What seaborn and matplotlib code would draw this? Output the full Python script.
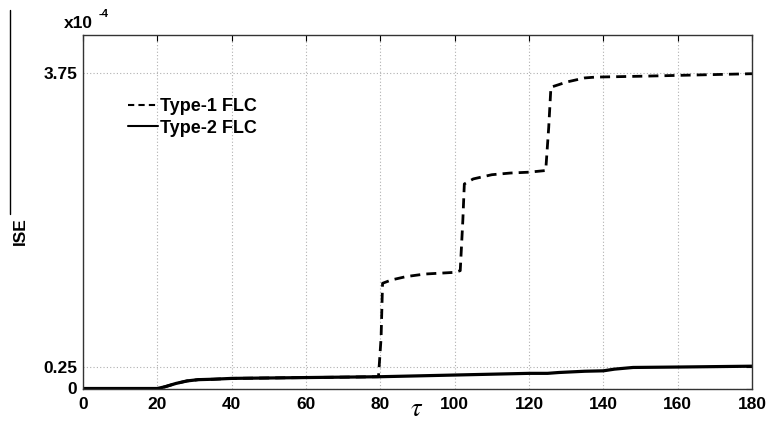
import numpy as np
import pandas as pd
import matplotlib
matplotlib.use("Agg")
import matplotlib.pyplot as plt
import seaborn as sns
from matplotlib.lines import Line2D

# ---- data (ISE in units of 1e-4) ----
t1_tau = [0, 20, 22, 25, 28, 31, 35, 40, 50, 60, 70, 79.5, 80.2, 80.6, 83, 87, 92, 96, 100,
          101.5, 102.2, 102.6, 105, 110, 115, 120, 124.5, 125.3, 125.9, 128, 130, 135, 138,
          150, 160, 170, 180]
t1_ise = [0, 0, 0.02, 0.06, 0.09, 0.105, 0.11, 0.12, 0.125, 0.13, 0.135, 0.14, 0.6, 1.25,
          1.29, 1.33, 1.36, 1.37, 1.38, 1.40, 2.0, 2.43, 2.49, 2.54, 2.56, 2.57, 2.59, 3.1,
          3.58, 3.61, 3.64, 3.69, 3.70, 3.71, 3.72, 3.73, 3.74]

t2_tau = [0, 20, 22, 25, 28, 31, 35, 40, 50, 60, 70, 80, 90, 100, 110, 120, 125, 128,
          135, 140, 143, 148, 160, 170, 180]
t2_ise = [0, 0, 0.02, 0.06, 0.09, 0.105, 0.11, 0.12, 0.125, 0.13, 0.135, 0.14, 0.15, 0.16,
          0.17, 0.18, 0.18, 0.19, 0.205, 0.21, 0.23, 0.25, 0.255, 0.26, 0.265]

x_ticks = [0, 20, 40, 60, 80, 100, 120, 140, 160, 180]
y_ticks = [0, 0.25, 3.75]
y_tick_labels = ["0", "0.25", "3.75"]
series_labels = ["Type-1 FLC", "Type-2 FLC"]

sns.set_theme(style="white")
plt.rcParams["font.family"] = ["Liberation Sans", "DejaVu Sans"]
plt.rcParams["mathtext.fontset"] = "stix"
plt.rcParams["text.color"] = "black"
plt.rcParams["axes.labelcolor"] = "black"

fig = plt.figure(figsize=(7.67, 4.22), dpi=100)
W, H = 767, 422
left, right, top, bottom = 83, 752, 35, 388.5
ax = fig.add_axes([left / W, 1 - bottom / H, (right - left) / W, (bottom - top) / H])

df1 = pd.DataFrame({"tau": t1_tau, "ise": t1_ise})
df2 = pd.DataFrame({"tau": t2_tau, "ise": t2_ise})
sns.lineplot(data=df1, x="tau", y="ise", ax=ax, color="black", lw=2.0,
             linestyle=(0, (3.6, 2.2)), sort=False)
sns.lineplot(data=df2, x="tau", y="ise", ax=ax, color="black", lw=2.3, sort=False)

ax.set_xlim(0, 180)
ax.set_ylim(0, 4.2)
ax.set_xticks(x_ticks)
ax.set_xticklabels([str(v) for v in x_ticks])
ax.set_yticks(y_ticks)
ax.set_yticklabels(y_tick_labels)
ax.grid(True, color="#b0b0b0", linestyle=(0, (1, 2)), lw=0.8)
ax.tick_params(direction="in", length=4, width=0.8, colors="black",
               top=True, right=True, labelsize=12.5, pad=4)
ax.tick_params(axis="x", pad=6)
for lab in ax.get_xticklabels() + ax.get_yticklabels():
    lab.set_fontweight("bold")
for s in ax.spines.values():
    s.set_color("#333333")
    s.set_linewidth(1.0)

ax.set_xlabel("")
ax.set_ylabel("")
fig.text(417 / W, 1 - 409 / H, r"$\tau$", fontsize=19, ha="center", va="center")
fig.text(20 / W, 1 - 231 / H, "ISE", rotation=90, fontsize=12.5, fontweight="bold",
         ha="center", va="center")
fig.add_artist(Line2D([10 / W, 10 / W], [1 - 10 / H, 1 - 214 / H], color="black", lw=1.0))

fig.text(64 / W, 1 - 24 / H, "x10", fontsize=12.5, fontweight="bold", ha="left", va="center")
fig.text(99 / W, 1 - 14 / H, "-4", fontsize=8, fontweight="bold", ha="left", va="center")

handles = [Line2D([], [], color="black", lw=1.5, linestyle=(0, (3, 2))),
           Line2D([], [], color="black", lw=1.5)]
leg = ax.legend(handles, series_labels, loc="upper left",
                bbox_to_anchor=((128 - left) / (right - left), (bottom - 98) / (bottom - top)),
                frameon=False, borderpad=0, borderaxespad=0,
                handlelength=1.65, handletextpad=0.12, labelspacing=0.25,
                prop={"weight": "bold", "size": 13})

fig.savefig("out.png", dpi=100)
